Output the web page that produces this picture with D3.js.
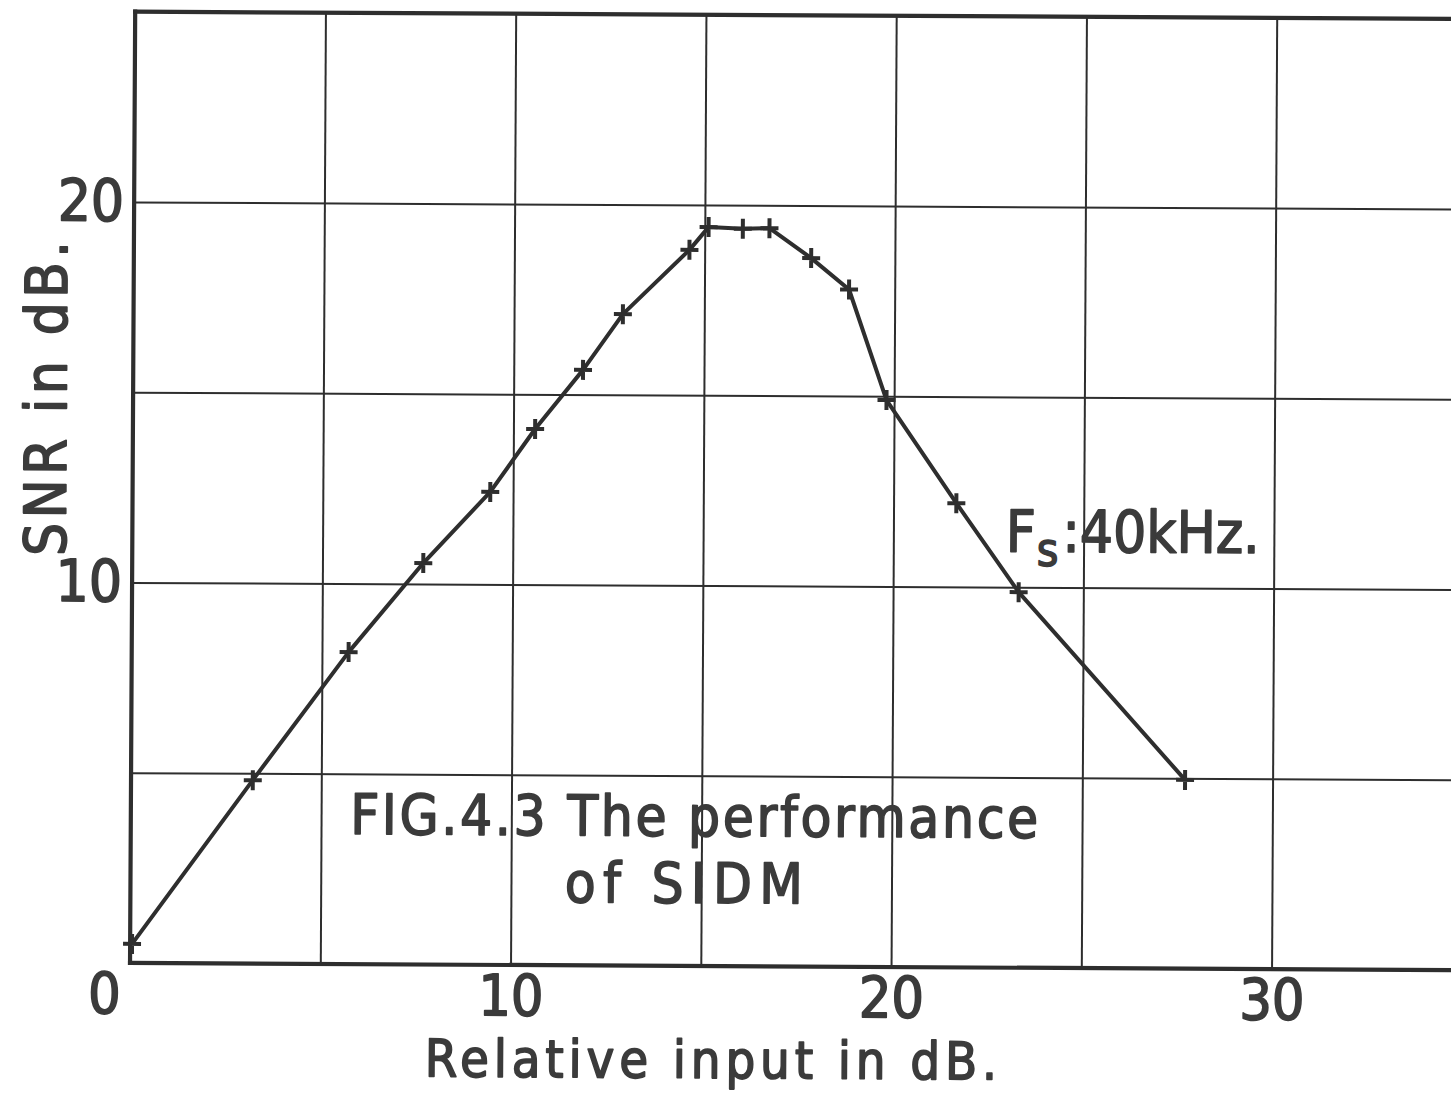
<!DOCTYPE html>
<html>
<head>
<meta charset="utf-8">
<script src="https://cdn.jsdelivr.net/npm/d3@7"></script>
<style>
  html, body { margin: 0; padding: 0; background: #ffffff; }
  svg { display: block; }
  text {
    font-family: "DejaVu Sans Condensed", "DejaVu Sans", sans-serif;
    fill: #3b3b3b; stroke: #3b3b3b; stroke-width: 1.6px; stroke-linejoin: round;
  }
</style>
</head>
<body>
<svg id="chart" width="1451" height="1096"></svg>
<script>
// Measured SNR of SIDM against relative input level (Fs = 40 kHz)
const inputDb = [0.05, 3.2, 5.7, 7.65, 9.4, 10.57, 11.82, 12.86, 14.6, 15.1, 16.0, 16.7, 17.8, 18.8, 19.8, 21.65, 23.3, 27.7];
const snrDb   = [0.5, 4.82, 8.2, 10.55, 12.43, 14.09, 15.65, 17.12, 18.82, 19.42, 19.38, 19.4, 18.62, 17.8, 14.9, 12.2, 9.87, 4.96];

const xTickValues = [0, 10, 20, 30];
const yTickValues = [10, 20];
const xGridValues = [5, 10, 15, 20, 25, 30];
const yGridValues = [5, 10, 15, 20];

const xTitle = "Relative input in dB.";
const yTitle = "SNR in dB.";
const captionLines = ["FIG.4.3  The  performance", "of  SIDM"];

const svg = d3.select("#chart");
const ink = "#2e2e2e";

// The sheet sits slightly skewed on the page
const g = svg.append("g").attr("transform", "rotate(0.31, 700, 490)");

const x = d3.scaleLinear().domain([0, 35]).range([132.6, 1464.4]);
const y = d3.scaleLinear().domain([0, 25]).range([966, 14.75]);

// Grid
g.append("g")
  .attr("transform", `translate(0,${y(0)})`)
  .call(d3.axisBottom(x).tickValues(xGridValues).tickSize(-(y(0) - y(25))).tickFormat(""))
  .call(a => a.select(".domain").remove())
  .call(a => a.selectAll("line").attr("stroke", ink).attr("stroke-width", 2));

g.append("g")
  .attr("transform", `translate(${x(0)},0)`)
  .call(d3.axisLeft(y).tickValues(yGridValues).tickSize(-(x(35) - x(0))).tickFormat(""))
  .call(a => a.select(".domain").remove())
  .call(a => a.selectAll("line").attr("stroke", ink).attr("stroke-width", 2));

// Frame: left, bottom, top
const frame = [
  [[x(0), y(25)], [x(0), y(0)]],
  [[x(0), y(0)], [x(35), y(0)]],
  [[x(0), y(25)], [x(35), y(25)]]
];
g.append("g").selectAll("path").data(frame).join("path")
  .attr("d", d => d3.line()(d))
  .attr("stroke", ink).attr("stroke-width", 4.2).attr("fill", "none")
  .attr("stroke-linecap", "square");

// Tick labels
g.append("g")
  .attr("transform", `translate(0,${y(0)})`)
  .call(d3.axisBottom(x).tickValues(xTickValues).tickSize(0).tickPadding(10).tickFormat(d3.format("d")))
  .call(a => a.select(".domain").remove())
  .call(a => a.selectAll("text")
    .attr("font-size", 57).attr("font-family", null).attr("fill", null)
    .attr("dx", d => d === 0 ? -26 : 0));

g.append("g")
  .attr("transform", `translate(${x(0)},0)`)
  .call(d3.axisLeft(y).tickValues(yTickValues).tickSize(0).tickPadding(10).tickFormat(d3.format("d")))
  .call(a => a.select(".domain").remove())
  .call(a => a.selectAll("text")
    .attr("font-size", 58).attr("font-family", null).attr("fill", null));

// Axis titles
g.append("text")
  .attr("x", 714).attr("y", 1078)
  .attr("text-anchor", "middle")
  .attr("font-size", 52)
  .attr("textLength", 572).attr("lengthAdjust", "spacing")
  .text(xTitle);

g.append("text")
  .attr("transform", "translate(66,402) rotate(-90)")
  .attr("text-anchor", "middle")
  .attr("font-size", 58)
  .attr("textLength", 315).attr("lengthAdjust", "spacing")
  .text(yTitle);

// Curve
g.append("path")
  .datum(inputDb.map((v, i) => [v, snrDb[i]]))
  .attr("d", d3.line().x(d => x(d[0])).y(d => y(d[1])))
  .attr("fill", "none").attr("stroke", ink).attr("stroke-width", 4)
  .attr("stroke-linejoin", "round");

// Plus markers
g.append("g").selectAll("path").data(inputDb.map((v, i) => [v, snrDb[i]])).join("path")
  .attr("transform", d => `translate(${x(d[0])},${y(d[1])})`)
  .attr("d", "M-9,0H9M0,-10V10")
  .attr("stroke", ink).attr("stroke-width", 4).attr("fill", "none");

// Caption
g.append("text")
  .attr("x", 352).attr("y", 836)
  .attr("font-size", 56)
  .attr("textLength", 688).attr("lengthAdjust", "spacing")
  .text(captionLines[0]);
g.append("text")
  .attr("x", 567).attr("y", 903)
  .attr("font-size", 56)
  .attr("textLength", 238).attr("lengthAdjust", "spacing")
  .text(captionLines[1]);

// Sampling-rate annotation
const fs = g.append("text").attr("x", 1006).attr("y", 550).attr("font-size", 58);
fs.append("tspan").text("F");
fs.append("tspan").attr("font-size", 46).attr("dy", 14).attr("dx", 1).text("s");
fs.append("tspan").attr("dy", -14).attr("dx", 4).text(":40kHz.");
</script>
</body>
</html>
